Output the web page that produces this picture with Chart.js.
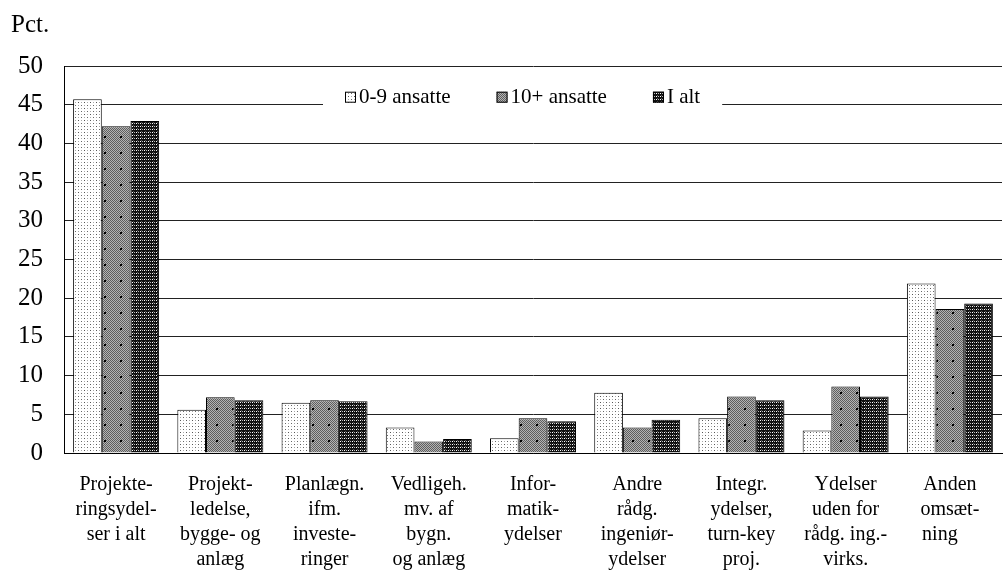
<!DOCTYPE html>
<html>
<head>
<meta charset="utf-8">
<script src="https://cdn.jsdelivr.net/npm/chart.js@4.4.1/dist/chart.umd.min.js"></script>
<style>
  html, body { margin: 0; padding: 0; background: #fff; }
  #wrap { width: 1003px; height: 576px; }
</style>
</head>
<body>
<div id="wrap"><canvas id="chart" width="1003" height="576"></canvas></div>
<script>
  var categories = [
    ["Projekte-", "ringsydel-", "ser i alt"],
    ["Projekt-", "ledelse,", "bygge- og", "anlæg"],
    ["Planlægn.", "ifm.", "investe-", "ringer"],
    ["Vedligeh.", "mv. af", "bygn.", "og anlæg"],
    ["Infor-", "matik-", "ydelser"],
    ["Andre", "rådg.", "ingeniør-", "ydelser"],
    ["Integr.", "ydelser,", "turn-key", "proj."],
    ["Ydelser", "uden for", "rådg. ing.-", "virks."],
    ["Anden", "omsæt-", "ning    "]
  ];
  var seriesNames = ["0-9 ansatte", "10+ ansatte", "I alt"];
  var small = [45.7, 5.6, 6.5, 3.3, 1.9, 7.8, 4.5, 2.9, 21.9];
  var large = [42.2, 7.2, 6.8, 1.5, 4.5, 3.3, 7.3, 8.6, 18.6];
  var total = [42.9, 6.8, 6.7, 1.8, 4.1, 4.3, 6.8, 7.3, 19.3];
  var yMin = 0, yMax = 50, yStep = 5;
  var yTitle = "Pct.";

  var FONT = "'Liberation Serif', 'Times New Roman', serif";

  function makePattern(w, h, bg, dots) {
    var c = document.createElement("canvas");
    c.width = w; c.height = h;
    var g = c.getContext("2d");
    g.fillStyle = bg;
    g.fillRect(0, 0, w, h);
    dots.forEach(function (d) {
      g.fillStyle = d[2];
      g.fillRect(d[0], d[1], d[3] || 1, d[4] || 1);
    });
    return g.createPattern(c, "repeat");
  }

  // light dotted
  var patSmall = makePattern(6, 6, "#ffffff", [
    [0, 0, "#555"], [3, 0, "#aaa"], [0, 3, "#aaa"], [3, 3, "#666"]
  ]);
  // mid grey checker with sparse black dots
  var checker = [];
  for (var y = 0; y < 16; y++) {
    for (var x = 0; x < 16; x++) {
      if ((x + y) % 2 === 0) checker.push([x, y, "#5e5e5e"]);
    }
  }
  checker.push([8, 8, "#000", 2, 2]);
  var patLarge = makePattern(16, 16, "#b4b4b4", checker);
  // dark with white grid dots
  var patTotal = makePattern(4, 3, "#111111", [
    [0, 0, "#ffffff"], [2, 0, "#bbbbbb"], [1, 2, "#555555"]
  ]);
  var patterns = [patSmall, patLarge, patTotal];

  var insideLegend = {
    id: "insideLegend",
    afterDatasetsDraw: function (chart) {
      var ctx = chart.ctx;
      var area = chart.chartArea;
      var yScale = chart.scales.y;
      var cy = yScale.getPixelForValue(45) - 8;
      ctx.save();
      ctx.font = "21px " + FONT;
      ctx.textBaseline = "middle";
      var x0 = area.left + 259;
      var pad = 22, box = 11, gap = 3, itemGap = 46;
      var x = x0 + pad;
      var items = chart.data.datasets.map(function (ds) {
        return { label: ds.label, fill: ds.backgroundColor, w: ctx.measureText(ds.label).width };
      });
      var totalW = pad * 2;
      items.forEach(function (it, i) { totalW += box + gap + it.w + (i < items.length - 1 ? itemGap : 0); });
      ctx.fillStyle = "#fff";
      ctx.fillRect(x0, cy - 14, totalW, 28);
      items.forEach(function (it) {
        ctx.fillStyle = it.fill;
        ctx.fillRect(x, cy - 5, box, box);
        ctx.strokeStyle = "#000";
        ctx.lineWidth = 1;
        ctx.strokeRect(x + 0.5, cy - 5 + 0.5, box - 1, box - 1);
        ctx.fillStyle = "#000";
        ctx.fillText(it.label, x + box + gap, cy + 1);
        x += box + gap + it.w + itemGap;
      });
      ctx.restore();
    }
  };

  var cornerTitle = {
    id: "cornerTitle",
    afterDraw: function (chart) {
      var ctx = chart.ctx;
      ctx.save();
      ctx.font = "25px " + FONT;
      ctx.fillStyle = "#000";
      ctx.textBaseline = "alphabetic";
      ctx.fillText(yTitle, 11, 32);
      ctx.restore();
    }
  };

  new Chart(document.getElementById("chart"), {
    type: "bar",
    data: {
      labels: categories,
      datasets: [small, large, total].map(function (vals, i) {
        return {
          label: seriesNames[i],
          data: vals,
          backgroundColor: patterns[i],
          borderColor: "#000",
          borderWidth: 1,
          borderSkipped: "bottom",
          categoryPercentage: 0.825,
          barPercentage: 1.0
        };
      })
    },
    options: {
      responsive: false,
      animation: false,
      devicePixelRatio: 1,
      layout: { padding: { top: 66, right: 1, left: 0, bottom: 0 } },
      plugins: { legend: { display: false }, tooltip: { enabled: false }, title: { display: false } },
      scales: {
        x: {
          grid: { display: true, drawOnChartArea: false, drawTicks: false },
          border: { display: true, color: "#000", width: 1 },
          ticks: {
            color: "#000", padding: 19, maxRotation: 0, autoSkip: false,
            font: { family: FONT, size: 20, lineHeight: 1.25 }
          },
          afterFit: function (s) { s.height = 123; }
        },
        y: {
          min: yMin, max: yMax,
          grid: { color: "#222", lineWidth: 1, drawTicks: false },
          border: { display: true, color: "#000", width: 1 },
          ticks: {
            stepSize: yStep, color: "#000", padding: 21,
            font: { family: FONT, size: 25 }
          },
          afterFit: function (s) { s.width = 64; }
        }
      }
    },
    plugins: [insideLegend, cornerTitle]
  });
</script>
</body>
</html>
